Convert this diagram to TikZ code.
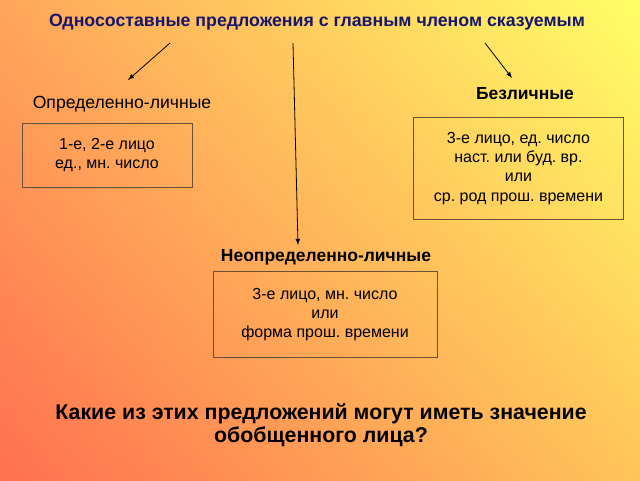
\documentclass[tikz,border=0pt]{standalone}
\usepackage{fontspec}
\setmainfont{Liberation Sans}
\frenchspacing
\usetikzlibrary{positioning,arrows,calc,shadings}
\definecolor{titleblue}{RGB}{22,22,110}
\definecolor{boxline}{RGB}{105,80,55}
\definecolor{bgTL}{RGB}{255,166,90}
\definecolor{bgTR}{RGB}{255,255,102}
\definecolor{bgBL}{RGB}{255,112,80}
\definecolor{bgBR}{RGB}{255,196,90}
\tikzset{lbl/.style={font=\fontsize{13.2}{15.5}\selectfont,inner sep=1pt},
    head/.style={font=\bfseries\fontsize{13.1}{15.5}\selectfont,inner sep=1pt},
    box/.style n args={2}{draw=boxline,line width=0.6pt,rectangle,
        minimum width=#1,minimum height=#2,align=center,
        font=\fontsize{12}{14.3}\selectfont}
}
\begin{document}
\begin{tikzpicture}[>=latex,x=0.75pt,y=-0.75pt]
	\shade[upper left=bgTL,upper right=bgTR,lower left=bgBL,lower right=bgBR] (0,0) rectangle (640,480);
	\useasboundingbox (0,0) rectangle (640,480);
	\node[font=\bfseries\fontsize{13.3}{16}\selectfont,text=titleblue] (T) at (317,22) {Односоставные предложения с главным членом сказуемым};
	\node[lbl] (L) at (122,104) {Определенно-личные};
	\node[head] (R) at (525,94) {Безличные};
	\node[head] (M) at (326,257) {Неопределенно-личные};
	\node[box={127.5pt}{48pt}] (LB) at (107,155) {1-е, 2-е лицо\\ед., мн. число};
	\node[box={158pt}{76pt}] (RB) at (518.5,168.5) {3-е лицо, ед. число\\наст. или буд. вр.\\или\\ср. род прош. времени};
	\node[box={168pt}{64pt}] (MB) at (325,314.5) {3-е лицо, мн. число\\или\\форма прош. времени};
	\node[align=center,font=\bfseries\fontsize{16}{17.3}\selectfont] (Q) at (321,425) {Какие из этих предложений могут иметь значение\\обобщенного лица?};
	\coordinate (sL) at (170,43);
	\coordinate (eL) at (128,80);
	\coordinate (sM) at (293,43);
	\coordinate (eM) at (298,245);
	\coordinate (sR) at (485,43);
	\coordinate (eR) at (512,78);
	\draw[->,line width=0.6pt] (sL) -- (eL);
	\draw[->,line width=0.6pt] (sM) -- (eM);
	\draw[->,line width=0.6pt] (sR) -- (eR);
\end{tikzpicture}
\end{document}
